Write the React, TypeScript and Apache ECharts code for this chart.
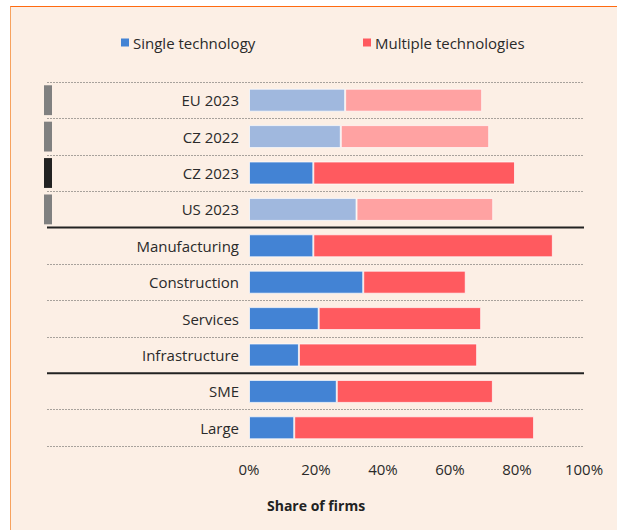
import React, { useEffect, useRef } from "react";
import * as echarts from "echarts";

const categories = [
  "EU 2023",
  "CZ 2022",
  "CZ 2023",
  "US 2023",
  "Manufacturing",
  "Construction",
  "Services",
  "Infrastructure",
  "SME",
  "Large",
];
const singleTech = [28.7, 27.4, 19.2, 32.1, 19.2, 34.1, 20.8, 14.9, 26.2, 13.5];
const multipleTech = [40.9, 44.3, 60.2, 40.8, 71.5, 30.6, 48.5, 53.2, 46.6, 71.6];
// comparison rows are drawn in lighter shades
const comparisonRows = ["EU 2023", "CZ 2022", "US 2023"];
// country rows with a marker at the left; the highlighted one is dark
const markerRows = ["EU 2023", "CZ 2022", "CZ 2023", "US 2023"];
const highlightedRow = "CZ 2023";
// section separators are drawn below these rows
const separatorAfter = ["US 2023", "Infrastructure"];
const xTicks = [0, 20, 40, 60, 80, 100];

const FONT = "'Open Sans', 'Noto Sans', sans-serif";
const TEXT = "#2a2a2a";
const BLUE = "#4383D4";
const BLUE_LIGHT = "#A0B8DE";
const RED = "#FF5A5F";
const RED_LIGHT = "#FFA2A2";

export default function App() {
  const ref = useRef<HTMLDivElement>(null);

  useEffect(() => {
    if (!ref.current) return;
    const chart = echarts.init(ref.current, undefined, { renderer: "svg" });
    const top = 82;
    const bottom = 84;

    const option: any = {
      animation: false,
      backgroundColor: "transparent",
      textStyle: { fontFamily: FONT },
      title: {
        text: "Share of firms",
        left: 262,
        top: 493,
        textStyle: { fontFamily: FONT, fontSize: 14, fontWeight: "bold", color: "#222" },
      },
      legend: [
        {
          data: ["Single technology"],
          left: 116,
          top: 30,
          icon: "rect",
          itemWidth: 8,
          itemHeight: 8,
          itemStyle: { borderWidth: 0 },
          textStyle: { fontFamily: FONT, fontSize: 15, color: TEXT, padding: [0, 0, 0, -1] },
        },
        {
          data: ["Multiple technologies"],
          left: 358,
          top: 30,
          icon: "rect",
          itemWidth: 8,
          itemHeight: 8,
          itemStyle: { borderWidth: 0 },
          textStyle: { fontFamily: FONT, fontSize: 15, color: TEXT, padding: [0, 0, 0, -1] },
        },
      ],
      grid: [
        { left: 47, right: 33, top, bottom },
        { left: 249, right: 33, top, bottom },
      ],
      xAxis: [
        { gridIndex: 0, type: "value", min: 0, max: 1, show: false },
        {
          gridIndex: 1,
          type: "value",
          min: xTicks[0],
          max: xTicks[xTicks.length - 1],
          interval: 20,
          axisLine: { show: false },
          axisTick: { show: false },
          splitLine: { show: false },
          axisLabel: {
            formatter: "{value}%",
            fontFamily: FONT,
            fontSize: 15,
            color: TEXT,
            margin: 15,
          },
        },
      ],
      yAxis: [
        {
          gridIndex: 0,
          type: "category",
          data: categories,
          inverse: true,
          axisLine: { show: false },
          axisTick: { show: false },
          axisLabel: { show: false },
          splitLine: {
            show: true,
            lineStyle: { color: "#a8a29c", width: 1, type: [2, 1] },
          },
        },
        {
          gridIndex: 1,
          type: "category",
          data: categories,
          inverse: true,
          axisLine: { show: false },
          axisTick: { show: false },
          splitLine: { show: false },
          axisLabel: { fontFamily: FONT, fontSize: 15, color: TEXT, margin: 10 },
        },
      ],
      series: [
        {
          name: "Single technology",
          type: "bar",
          stack: "total",
          xAxisIndex: 1,
          yAxisIndex: 1,
          barWidth: 23,
          itemStyle: { color: BLUE, borderColor: "rgba(255,255,255,0.7)", borderWidth: 1 },
          data: categories.map((c, i) => ({
            value: singleTech[i],
            itemStyle: { color: comparisonRows.includes(c) ? BLUE_LIGHT : BLUE },
          })),
          z: 3,
        },
        {
          name: "Multiple technologies",
          type: "bar",
          stack: "total",
          xAxisIndex: 1,
          yAxisIndex: 1,
          barWidth: 23,
          itemStyle: { color: RED, borderColor: "rgba(255,255,255,0.7)", borderWidth: 1 },
          data: categories.map((c, i) => ({
            value: multipleTech[i],
            itemStyle: { color: comparisonRows.includes(c) ? RED_LIGHT : RED },
          })),
          z: 3,
        },
        {
          type: "custom",
          xAxisIndex: 0,
          yAxisIndex: 0,
          silent: true,
          z: 4,
          encode: { x: 0, y: 1 },
          data: separatorAfter.map((c) => [0, categories.indexOf(c)]),
          renderItem: (params: any, api: any) => {
            const idx = api.value(1);
            const p1 = api.coord([0, idx]);
            const p2 = api.coord([1, idx]);
            const h = api.size([0, 1])[1];
            const y = p1[1] + h / 2;
            return {
              type: "line",
              shape: { x1: p1[0], y1: y, x2: p2[0], y2: y },
              style: { stroke: "#222", lineWidth: 2 },
            };
          },
        },
        {
          type: "custom",
          xAxisIndex: 0,
          yAxisIndex: 0,
          silent: true,
          z: 4,
          encode: { x: 0, y: 1 },
          data: markerRows.map((c) => [0, categories.indexOf(c), c === highlightedRow ? 1 : 0]),
          renderItem: (params: any, api: any) => {
            const p = api.coord([0, api.value(1)]);
            const h = api.size([0, 1])[1];
            const mh = h * 0.82;
            return {
              type: "rect",
              shape: { x: p[0] - 3, y: p[1] - mh / 2, width: 8, height: mh },
              style: { fill: api.value(2) ? "#222" : "#808080" },
            };
          },
        },
      ],
    };
    chart.setOption(option);
    return () => chart.dispose();
  }, []);

  return (
    <div
      style={{
        position: "fixed",
        left: 0,
        top: 0,
        width: 617,
        height: 530,
        background: "#ffffff",
        overflow: "hidden",
      }}
    >
      <div
        style={{
          position: "absolute",
          left: 10,
          top: 5.5,
          width: 640,
          height: 560,
          background: "#FCEFE5",
          borderTop: "1.5px solid #FF6A10",
          borderLeft: "1.5px solid #F7A25E",
        }}
      />
      <div ref={ref} style={{ position: "absolute", left: 0, top: 0, width: 617, height: 530 }} />
    </div>
  );
}
